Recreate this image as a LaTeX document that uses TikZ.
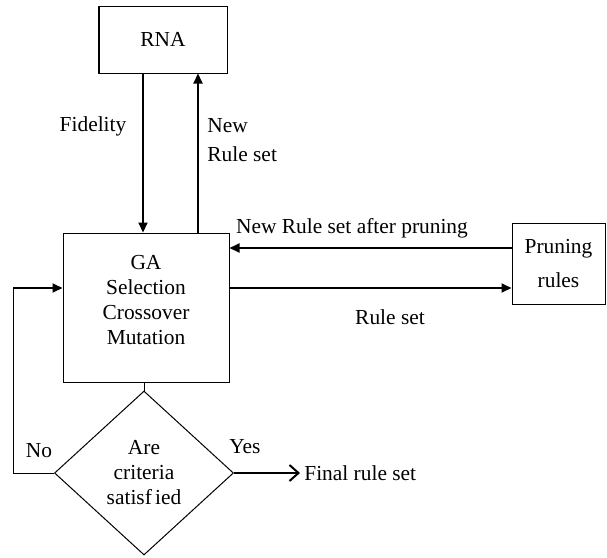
\documentclass[tikz,border=0pt]{standalone}
\usepackage{fontspec}
\setmainfont{Liberation Serif}
\usetikzlibrary{arrows.meta,shapes.geometric}
\begin{document}
\begin{tikzpicture}[x=0.5pt,y=-0.5pt,
  font=\fontsize{10.7}{12.5}\selectfont,
  box/.style={draw, line width=0.5pt, inner sep=0pt, align=center},
  thickarrow/.style={line width=1pt, -{Triangle[length=5pt,width=4.5pt]}},
  thinline/.style={line width=0.5pt},
  lbl/.style={inner sep=0pt, align=center}]
\useasboundingbox (0,0) rectangle (607,558);
% nodes
\node[box, minimum width=64pt, minimum height=33.5pt] (rna) at (163,39.5) {RNA};
\node[box, minimum width=83pt, minimum height=74.5pt,
      label={[lbl, font=\fontsize{10.7}{12.5}\selectfont, yshift=3.5pt]center:GA\\Selection\\Crossover\\Mutation}] (ga) at (146,307.5) {};
\node[box, minimum width=46.5pt, minimum height=40.5pt, font=\fontsize{10.7}{17}\selectfont] (prune) at (558.5,263.5) {Pruning\\rules};
\node[draw, diamond, line width=0.5pt, inner sep=0pt, minimum width=89.5pt, minimum height=82pt, align=center,
      font=\fontsize{10.7}{12.5}\selectfont] (dia) at (144,473) {Are\\criteria\\satisf\hspace{0.15em}ied};
\node[anchor=west, inner sep=2pt] (final) at (300,473) {Final rule set};
\coordinate (c1) at (13,473);
\coordinate (c2) at (13,288);
% connectors
\draw[thickarrow] ([xshift=-10pt]rna.south) -- ([xshift=-10pt]rna.south |- ga.north);
\draw[thickarrow] ([xshift=17.5pt]rna.south |- ga.north) -- ([xshift=17.5pt]rna.south);
\draw[thickarrow] ([yshift=7.75pt]prune.west) -- ([yshift=7.75pt]prune.west -| ga.east);
\draw[thickarrow] ([yshift=-12.25pt]prune.west -| ga.east) -- ([yshift=-12.25pt]prune.west);
\draw[thinline] (dia.north |- ga.south) -- (dia.north);
\draw[thinline] (dia.west) -- (c1) -- (c2);
\draw[thickarrow] (c2) -- (c2 -| ga.west);
\draw[line width=1pt, -{Straight Barb[length=4.5pt,width=8pt,line width=1pt]}] (dia.east) -- (final.west);
% labels
\node[lbl] (lfid) at (93,126) {Fidelity};
\node[lbl, anchor=west, align=left, font=\fontsize{10.7}{14.5}\selectfont] (lnew) at (207,140) {New\\Rule set};
\node[lbl] (lpr) at (352,228) {New Rule set after pruning};
\node[lbl] (lrs) at (390,317) {Rule set};
\node[lbl] (lno) at (39,451) {No};
\node[lbl] (lyes) at (245,447) {Yes};
\end{tikzpicture}
\end{document}
